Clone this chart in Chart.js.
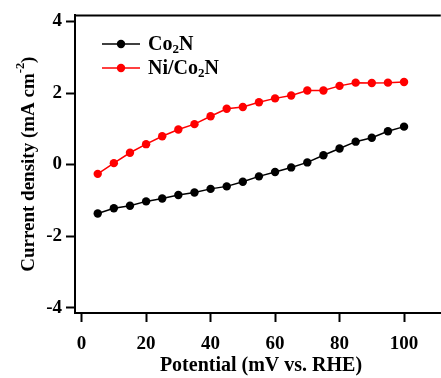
<!DOCTYPE html>
<html>
  <head>
    <title>Current density vs potential</title>
    <meta charset="utf-8" />
    <script src="https://cdn.jsdelivr.net/npm/chart.js"></script>
  </head>
<style>
  html, body { margin: 0; padding: 0; background: #fff; overflow: hidden; }
  .canvas-container { position: relative; width: 445px; height: 378px; }
</style>
  <body>
    <div class="canvas-container">
      <canvas id="lsvChart"></canvas>
    </div>
    <script>
      // 电位 (mV vs. RHE)
      const potentials = [5, 10, 15, 20, 25, 30, 35, 40, 45, 50, 55, 60, 65, 70, 75, 80, 85, 90, 95, 100];
      // 电流密度 (mA cm-2)
      const co2nValues = [-1.37, -1.22, -1.15, -1.03, -0.95, -0.85, -0.78, -0.68, -0.61, -0.48, -0.33, -0.21, -0.08, 0.06, 0.26, 0.45, 0.64, 0.75, 0.93, 1.06];
      const niCo2nValues = [-0.26, 0.04, 0.33, 0.57, 0.79, 0.98, 1.13, 1.35, 1.56, 1.61, 1.74, 1.85, 1.93, 2.07, 2.07, 2.20, 2.29, 2.28, 2.29, 2.31];
      const xTicks = [0, 20, 40, 60, 80, 100];
      const yTicks = [-4, -2, 0, 2, 4];

      const serif = '"Liberation Serif", "Times New Roman", serif';

      const toPoints = (ys) => potentials.map((x, i) => ({ x: x, y: ys[i] }));

      // 带下标/上标的文字
      function drawRich(ctx, parts, x, y, size) {
        let cx = x;
        parts.forEach(p => {
          const s = p.sub || p.sup ? size * 0.65 : size;
          ctx.font = 'bold ' + s + 'px ' + serif;
          const dy = p.sub ? size * 0.22 : (p.sup ? -size * 0.42 : 0);
          ctx.fillText(p.t, cx, y + dy);
          cx += ctx.measureText(p.t).width;
        });
        return cx - x;
      }
      function richWidth(ctx, parts, size) {
        let w = 0;
        parts.forEach(p => {
          const s = p.sub || p.sup ? size * 0.65 : size;
          ctx.font = 'bold ' + s + 'px ' + serif;
          w += ctx.measureText(p.t).width;
        });
        return w;
      }

      const labels = [
        { parts: [{ t: 'Co' }, { t: '2', sub: true }, { t: 'N' }], color: '#000000' },
        { parts: [{ t: 'Ni/Co' }, { t: '2', sub: true }, { t: 'N' }], color: '#ff0000' }
      ];

      const decorations = {
        id: 'decorations',
        afterDraw(chart) {
          const ctx = chart.ctx;
          const area = chart.chartArea;
          ctx.save();
          // 上边框
          ctx.strokeStyle = '#000';
          ctx.lineWidth = 2;
          ctx.beginPath();
          ctx.moveTo(area.left - 1, area.top);
          ctx.lineTo(area.right, area.top);
          ctx.stroke();

          // 图例
          ctx.textBaseline = 'middle';
          ctx.textAlign = 'left';
          labels.forEach((lab, i) => {
            const y = 44 + i * 24;
            ctx.strokeStyle = lab.color;
            ctx.lineWidth = 1.5;
            ctx.beginPath();
            ctx.moveTo(102, y);
            ctx.lineTo(140, y);
            ctx.stroke();
            ctx.fillStyle = lab.color;
            ctx.beginPath();
            ctx.arc(121, y, 4.2, 0, Math.PI * 2);
            ctx.fill();
            ctx.fillStyle = '#000';
            drawRich(ctx, lab.parts, 148, y + 1, 20);
          });

          // 坐标轴标题
          ctx.fillStyle = '#000';
          ctx.textAlign = 'center';
          ctx.font = 'bold 20px ' + serif;
          ctx.fillText('Potential (mV vs. RHE)', (area.left + 441) / 2 + 3, 366);

          const yParts = [{ t: 'Current density (mA cm' }, { t: '-2', sup: true }, { t: ')' }];
          ctx.translate(29, (area.top + area.bottom) / 2);
          ctx.rotate(-Math.PI / 2);
          ctx.textAlign = 'left';
          const w = richWidth(ctx, yParts, 19);
          drawRich(ctx, yParts, -w / 2, 0, 19);
          ctx.restore();
        }
      };

      const ctx = document.getElementById('lsvChart').getContext('2d');
      const lsvChart = new Chart(ctx, {
        type: 'line',
        data: {
          datasets: [
            {
              label: 'Co2N',
              data: toPoints(co2nValues),
              borderColor: '#000000',
              backgroundColor: '#000000',
              borderWidth: 1.5,
              pointRadius: 4.2,
              pointBorderWidth: 0
            },
            {
              label: 'Ni/Co2N',
              data: toPoints(niCo2nValues),
              borderColor: '#ff0000',
              backgroundColor: '#ff0000',
              borderWidth: 1.5,
              pointRadius: 4.2,
              pointBorderWidth: 0
            }
          ]
        },
        options: {
          responsive: true,
          maintainAspectRatio: false,
          animation: false,
          layout: { padding: { top: 14, left: 0, right: 0, bottom: 0 } },
          plugins: {
            legend: { display: false },
            tooltip: { enabled: false }
          },
          scales: {
            x: {
              type: 'linear',
              min: -2.05,
              max: 111.4,
              afterBuildTicks: (scale) => { scale.ticks = xTicks.map(v => ({ value: v })); },
              afterFit: (scale) => { scale.height = 65; },
              grid: { drawOnChartArea: false, tickLength: 9, tickWidth: 2, tickColor: '#000' },
              border: { color: '#000', width: 2 },
              ticks: {
                color: '#000',
                padding: 11,
                maxRotation: 0,
                font: { family: serif, size: 19, weight: 'bold' }
              }
            },
            y: {
              min: -4.15,
              max: 4.17,
              afterBuildTicks: (scale) => { scale.ticks = yTicks.map(v => ({ value: v })); },
              afterFit: (scale) => { scale.width = 75; },
              grid: { drawOnChartArea: false, tickLength: 9, tickWidth: 2, tickColor: '#000' },
              border: { color: '#000', width: 2 },
              ticks: {
                color: '#000',
                padding: 4,
                font: { family: serif, size: 19, weight: 'bold' }
              }
            }
          }
        },
        plugins: [decorations]
      });
    </script>
  </body>
</html>
